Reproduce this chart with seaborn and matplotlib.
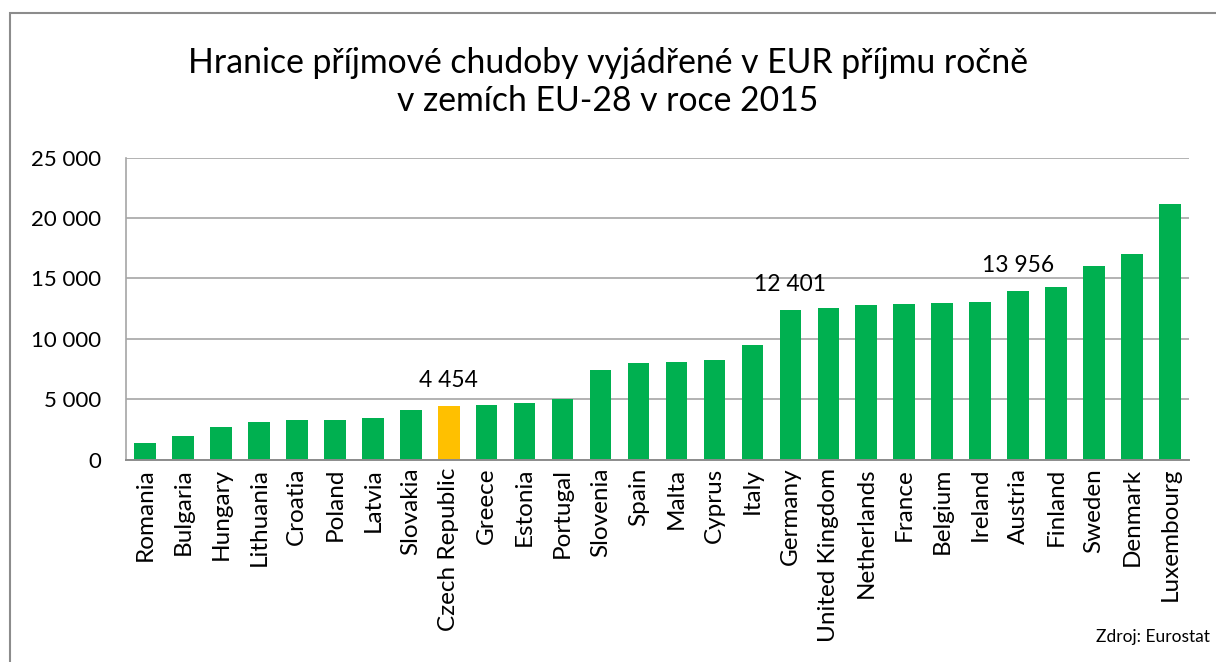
import matplotlib
matplotlib.use("Agg")
import matplotlib.pyplot as plt
import seaborn as sns
import pandas as pd
from matplotlib.ticker import FuncFormatter, MultipleLocator
from matplotlib.patches import Rectangle

countries = ["Romania", "Bulgaria", "Hungary", "Lithuania", "Croatia", "Poland",
             "Latvia", "Slovakia", "Czech Republic", "Greece", "Estonia", "Portugal",
             "Slovenia", "Spain", "Malta", "Cyprus", "Italy", "Germany",
             "United Kingdom", "Netherlands", "France", "Belgium", "Ireland",
             "Austria", "Finland", "Sweden", "Denmark", "Luxembourg"]
values = [1340, 1950, 2690, 3080, 3240, 3290, 3440, 4120, 4454, 4510, 4700, 5000,
          7380, 7990, 8070, 8240, 9500, 12401, 12540, 12760, 12850, 12980, 13040,
          13956, 14250, 15990, 17040, 21150]
labelled = ["Czech Republic", "Germany", "Austria"]
title_text = "Hranice příjmové chudoby vyjádřené v EUR příjmu ročně\nv zemích EU-28 v roce 2015"
source_text = "Zdroj: Eurostat"

GREEN = "#00b050"
YELLOW = "#ffc000"

df = pd.DataFrame({"country": countries, "value": values})
palette = {c: (YELLOW if c == "Czech Republic" else GREEN) for c in countries}

sns.set_theme(style="white")
plt.rcParams["font.family"] = ["Lato", "DejaVu Sans"]

fig = plt.figure(figsize=(12.16, 6.62), dpi=100)
ax = fig.add_axes([126 / 1216, 1 - 459.5 / 662, (1189 - 126) / 1216, (459.5 - 157.5) / 662])

sns.barplot(data=df, x="country", y="value", hue="country", palette=palette,
            legend=False, width=0.57, saturation=1, ax=ax, edgecolor="none")

ax.set_ylim(0, 25000)
ax.set_xlim(-0.5, len(countries) - 0.5)
ax.yaxis.set_major_locator(MultipleLocator(5000))
ax.yaxis.set_major_formatter(FuncFormatter(lambda v, p: f"{int(v):,}".replace(",", " ")))
ax.grid(axis="y", color="#a6a6a6", linewidth=1.2)
ax.set_axisbelow(True)
ax.set_xlabel("")
ax.set_ylabel("")
for s in ["top", "right"]:
    ax.spines[s].set_visible(False)
ax.spines["left"].set_color("#a6a6a6")
ax.spines["left"].set_linewidth(1.2)
ax.spines["bottom"].set_color("#8c8c8c")
ax.spines["bottom"].set_linewidth(1.4)
ax.tick_params(axis="y", length=0, pad=18, labelsize=16, labelcolor="black")
ax.tick_params(axis="x", length=0, pad=6, labelsize=17.5, labelcolor="black", rotation=90)

for c, v in zip(countries, values):
    if c in labelled:
        i = countries.index(c)
        ax.annotate(f"{v:,}".replace(",", " "), xy=(i, v), xytext=(0, 18),
                    textcoords="offset points", ha="center", va="center",
                    fontsize=16.4, color="black")

fig.text(0.5, 1 - 82 / 662, title_text, ha="center", va="center",
         fontsize=24.3, color="black", linespacing=1.2)
fig.text(1210 / 1216, 1 - 637 / 662, source_text, ha="right", va="center",
         fontsize=12.5, color="black")

fig.patches.append(Rectangle((10 / 1216, -0.05), 1.2, 1 - 13 / 662 + 0.05,
                             transform=fig.transFigure, fill=False,
                             edgecolor="#8c8c8c", linewidth=1.5))

fig.savefig("out.png", dpi=100)
